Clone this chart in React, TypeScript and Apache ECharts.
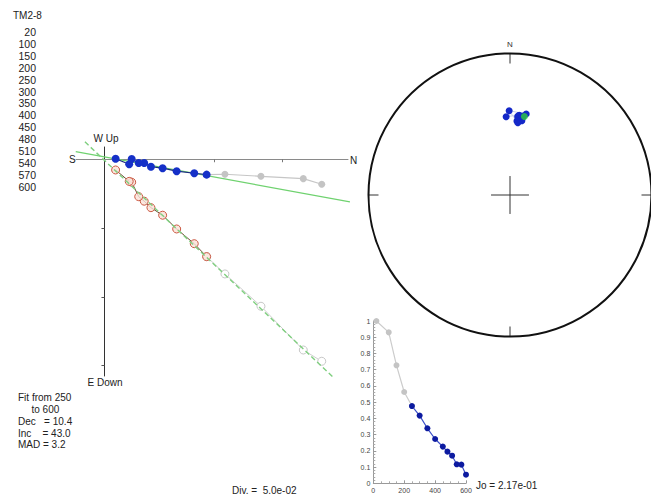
import React, { useEffect, useRef } from "react";
import * as echarts from "echarts";

// ---------------- data ----------------
const SAMPLE = "TM2-8";
const STEPS = [20, 100, 150, 200, 250, 300, 350, 400, 450, 480, 510, 540, 570, 600];
// vector components (A/m) used for the orthogonal projection
const NORTH = [0.158, 0.1446, 0.1138, 0.0876, 0.0743, 0.0653, 0.0525, 0.0423, 0.0338, 0.0289, 0.0249, 0.0198, 0.018, 0.0081];
const EAST = [0.0182, 0.0141, 0.0124, 0.0109, 0.0112, 0.0102, 0.0087, 0.0065, 0.0054, 0.0027, 0.0027, -0.0002, 0.0036, -0.0004];
const DOWN = [0.1469, 0.1387, 0.1069, 0.0834, 0.0708, 0.0614, 0.0507, 0.0407, 0.0352, 0.0305, 0.0272, 0.0167, 0.0161, 0.0078];
// normalised intensity J/Jo
const INTENSITY = [1.0, 0.93, 0.727, 0.5625, 0.476, 0.417, 0.339, 0.273, 0.226, 0.195, 0.17, 0.117, 0.115, 0.053];
const FIT_FROM = 250;
const FIT_TO = 600;
const FIT_DEC = 10.4;
const FIT_INC = 43.0;
const FIT_MAD = 3.2;
const JO_TEXT = "2.17e-01";
const DIV_TEXT = "5.0e-02";
const DEMAG_X_TICKS = [0, 200, 400, 600];
const ZIJ_X_TICKS = [0.0296, 0.0796, 0.1296];
const ZIJ_Y_TICKS = [0.05, 0.1, 0.15];

// ---------------- layout constants ----------------
const FONT = "'Liberation Sans', Arial, Helvetica, sans-serif";
const ZIJ_X_MIN = -0.0207;
const ZIJ_X_MAX = 0.1771;
const ZIJ_Y_MIN = -0.0089;
const ZIJ_Y_MAX = 0.1576;
const H_FIT_EXTENT = [-0.0209, 0.1785];
const V_FIT_EXTENT = [-0.0142, 0.1662];
const CROSS = 0.134;

export default function App() {
  const ref = useRef<HTMLDivElement>(null);
  useEffect(() => {
    if (!ref.current) return;
    const chart = echarts.init(ref.current, null, { renderer: "svg" });
    const deg = Math.PI / 180;
    const idx = STEPS.map((_, i) => i);
    const fitIdx = idx.filter((i) => STEPS[i] >= FIT_FROM && STEPS[i] <= FIT_TO);
    const first = fitIdx[0];
    const pre = idx.filter((i) => i <= first);

    const hGray = pre.map((i) => [NORTH[i], EAST[i]]);
    const hBlue = fitIdx.map((i) => [NORTH[i], EAST[i]]);
    const vGray = pre.map((i) => [NORTH[i], DOWN[i]]);
    const vRed = fitIdx.map((i) => [NORTH[i], DOWN[i]]);

    const mean = (a: number[]) => a.reduce((s, v) => s + v, 0) / a.length;
    const cN = mean(fitIdx.map((i) => NORTH[i]));
    const cE = mean(fitIdx.map((i) => EAST[i]));
    const cD = mean(fitIdx.map((i) => DOWN[i]));
    const hSlope = Math.tan(FIT_DEC * deg);
    const vSlope = Math.tan(FIT_INC * deg) / Math.cos(FIT_DEC * deg);
    const hFit = H_FIT_EXTENT.map((n) => [n, cE + hSlope * (n - cN)]);
    const vFit = V_FIT_EXTENT.map((n) => [n, cD + vSlope * (n - cN)]);

    const eqArea = (inc: number) => Math.SQRT2 * Math.sin(((90 - inc) / 2) * deg);
    const stereo = idx.map((i) => {
      const h = Math.hypot(NORTH[i], EAST[i]);
      let dec = Math.atan2(EAST[i], NORTH[i]) / deg;
      if (dec < 0) dec += 360;
      const inc = Math.atan2(DOWN[i], h) / deg;
      return [eqArea(inc), dec];
    });
    const fitPoint = [[eqArea(FIT_INC), FIT_DEC]];

    const demagGray = pre.map((i) => [STEPS[i], INTENSITY[i]]);
    const demagBlue = fitIdx.map((i) => [STEPS[i], INTENSITY[i]]);

    const txt = (text: string, x: number, y: number, size = 10, align = "left") => ({
      type: "text",
      x,
      y,
      silent: true,
      style: {
        text,
        fontSize: size,
        fontFamily: FONT,
        fill: "#222",
        align,
        textAlign: align,
        verticalAlign: "middle",
        textVerticalAlign: "middle",
      },
    });

    const graphics: any[] = [
      txt(SAMPLE, 13, 15, 10),
      ...STEPS.map((s, i) => txt(String(s), 36, 32 + i * 11.9, 10.5, "right")),
      txt("W Up", 106, 138, 10, "center"),
      txt("S", 69, 159.5, 10),
      txt("N", 350, 160, 10),
      txt("E Down", 105, 382, 10, "center"),
      txt(`Fit from ${FIT_FROM}`, 18, 397.7, 10),
      txt(`to ${FIT_TO}`, 31.5, 409.3, 10),
      txt(`Dec   = ${FIT_DEC.toFixed(1)}`, 18, 421.5, 10),
      txt(`Inc    = ${FIT_INC.toFixed(1)}`, 18, 433, 10),
      txt(`MAD = ${FIT_MAD.toFixed(1)}`, 18, 444.5, 10),
      txt(`Div. =  ${DIV_TEXT}`, 232, 490, 10),
      txt(`Jo = ${JO_TEXT}`, 476, 485, 10),
    ];

    const option: any = {
      animation: false,
      backgroundColor: "#fff",
      textStyle: { fontFamily: FONT },
      grid: [
        { left: 76, top: 147, width: 272, height: 229 },
        { left: 373.3, top: 321, width: 92.7, height: 162.3 },
      ],
      xAxis: [
        {
          type: "value",
          gridIndex: 0,
          min: ZIJ_X_MIN,
          max: ZIJ_X_MAX,
          axisLine: { show: true, onZero: true, lineStyle: { color: "#8a8a8a", width: 1 } },
          axisTick: { show: true, customValues: ZIJ_X_TICKS, length: 3, lineStyle: { color: "#777" } },
          axisLabel: { show: false },
          splitLine: { show: false },
        },
        {
          type: "value",
          gridIndex: 1,
          min: 0,
          max: 600,
          interval: 200,
          axisLine: { show: true, lineStyle: { color: "#999" } },
          axisTick: { show: true, inside: true, length: 3, lineStyle: { color: "#999" } },
          minorTick: { show: true, splitNumber: 4, length: 2, lineStyle: { color: "#aaa" } },
          axisLabel: { show: true, fontSize: 7, color: "#444", margin: 4, customValues: DEMAG_X_TICKS },
          splitLine: { show: false },
        },
      ],
      yAxis: [
        {
          type: "value",
          gridIndex: 0,
          inverse: true,
          min: ZIJ_Y_MIN,
          max: ZIJ_Y_MAX,
          axisLine: { show: true, onZero: true, lineStyle: { color: "#333", width: 1 } },
          axisTick: { show: true, customValues: ZIJ_Y_TICKS, length: 3, lineStyle: { color: "#555" } },
          axisLabel: { show: false },
          splitLine: { show: false },
        },
        {
          type: "value",
          gridIndex: 1,
          min: 0,
          max: 1,
          interval: 0.1,
          axisLine: { show: true, lineStyle: { color: "#999" } },
          axisTick: { show: true, inside: true, length: 3, lineStyle: { color: "#999" } },
          minorTick: { show: true, splitNumber: 5, length: 2, lineStyle: { color: "#aaa" } },
          axisLabel: { show: true, fontSize: 7, color: "#444", margin: 3 },
          splitLine: { show: false },
        },
      ],
      polar: { center: [510, 195], radius: 141.5 },
      angleAxis: {
        type: "value",
        min: 0,
        max: 360,
        interval: 90,
        startAngle: 90,
        clockwise: true,
        axisLine: { show: true, lineStyle: { color: "#111", width: 2 } },
        axisTick: { show: true, inside: true, length: 10, lineStyle: { color: "#333", width: 1 } },
        axisLabel: {
          show: true,
          fontSize: 8,
          color: "#333",
          margin: 5,
          formatter: (v: number) => (v === 0 ? "N" : ""),
        },
        splitLine: { show: false },
      },
      radiusAxis: {
        type: "value",
        min: 0,
        max: 1,
        axisLine: { show: false },
        axisTick: { show: false },
        axisLabel: { show: false },
        splitLine: { show: false },
      },
      series: [
        // Zijderveld fit lines
        {
          type: "line", xAxisIndex: 0, yAxisIndex: 0, data: hFit, symbol: "none", clip: false, z: 2,
          lineStyle: { color: "#6fd26f", width: 1.2 },
        },
        {
          type: "line", xAxisIndex: 0, yAxisIndex: 0, data: vFit, symbol: "none", clip: false, z: 4,
          lineStyle: { color: "#7fcf7f", width: 1.4, type: [5, 3] },
        },
        // horizontal projection
        {
          type: "line", xAxisIndex: 0, yAxisIndex: 0, data: hGray, symbol: "circle", symbolSize: 7, z: 3,
          lineStyle: { color: "#c6c6c6", width: 1.2 }, itemStyle: { color: "#c4c4c4" },
        },
        {
          type: "line", xAxisIndex: 0, yAxisIndex: 0, data: hBlue, symbol: "circle", symbolSize: 8, z: 3,
          lineStyle: { color: "#1a2a80", width: 1.2 }, itemStyle: { color: "#1530c8" },
        },
        // vertical projection
        {
          type: "line", xAxisIndex: 0, yAxisIndex: 0, data: vGray, symbol: "circle", symbolSize: 8, z: 3,
          lineStyle: { color: "#cfcfcf", width: 1 },
          itemStyle: { color: "#fff", borderColor: "#c8c8c8", borderWidth: 1 },
        },
        {
          type: "line", xAxisIndex: 0, yAxisIndex: 0, data: vRed, symbol: "circle", symbolSize: 8, z: 3,
          lineStyle: { color: "#6e4b33", width: 1 },
          itemStyle: { color: "rgba(250,225,215,0.8)", borderColor: "#cc5a44", borderWidth: 1 },
        },
        // demagnetisation curve
        {
          type: "line", xAxisIndex: 1, yAxisIndex: 1, data: demagGray, symbol: "circle", symbolSize: 6,
          lineStyle: { color: "#cccccc", width: 1.2 }, itemStyle: { color: "#c4c4c4" },
        },
        {
          type: "line", xAxisIndex: 1, yAxisIndex: 1, data: demagBlue, symbol: "circle", symbolSize: 6,
          lineStyle: { color: "#3c50c8", width: 1.2 }, itemStyle: { color: "#0c1aa0" },
        },
        // stereonet
        {
          type: "line", coordinateSystem: "polar", data: [[CROSS, 0], [CROSS, 180]], symbol: "none",
          lineStyle: { color: "#333", width: 1 },
        },
        {
          type: "line", coordinateSystem: "polar", data: [[CROSS, 90], [CROSS, 270]], symbol: "none",
          lineStyle: { color: "#333", width: 1 },
        },
        {
          type: "line", coordinateSystem: "polar", data: stereo, symbol: "circle", symbolSize: 7,
          lineStyle: { color: "#c9d0e8", width: 1 }, itemStyle: { color: "#1428c8" },
        },
        {
          type: "scatter", coordinateSystem: "polar", data: fitPoint, symbol: "circle", symbolSize: 7,
          itemStyle: { color: "#2ecc40" }, z: 5,
        },
      ],
      graphic: graphics,
    };
    chart.setOption(option);
    return () => chart.dispose();
  }, []);

  return (
    <div
      ref={ref}
      style={{ position: "fixed", left: 0, top: 0, width: 651, height: 503, background: "#fff" }}
    />
  );
}
